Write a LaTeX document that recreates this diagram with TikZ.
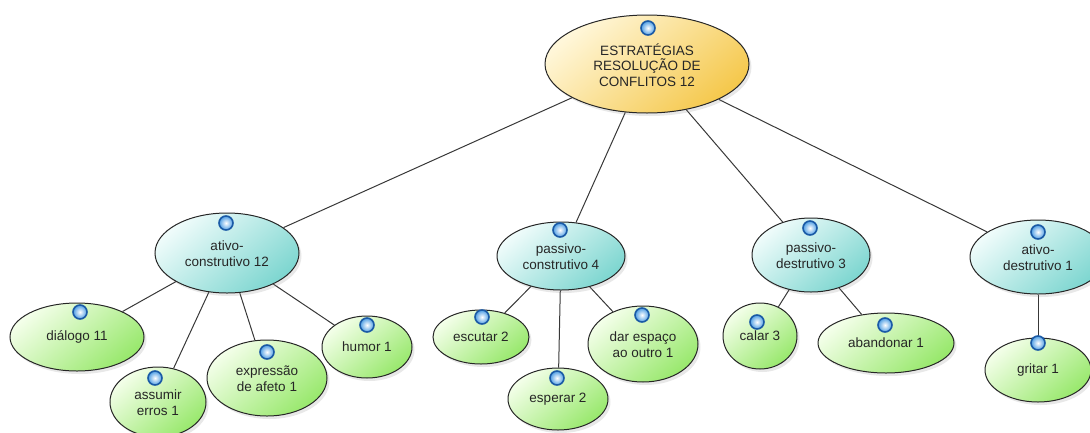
\documentclass[tikz,border=0pt]{standalone}
\usepackage{fontspec}
\setmainfont{Liberation Sans}
\usetikzlibrary{shapes.geometric,shadows,backgrounds}

\definecolor{inkline}{HTML}{262626}
\definecolor{edgeline}{HTML}{383838}
\definecolor{labeltext}{HTML}{262626}
\definecolor{rootlight}{HTML}{FFF7DA}
\definecolor{rootdark}{HTML}{F5C84C}
\definecolor{teallight}{HTML}{F0FCFB}
\definecolor{tealdark}{HTML}{7DD6D0}
\definecolor{greenlight}{HTML}{F4FFEA}
\definecolor{greendark}{HTML}{98E86C}
\definecolor{iconrim}{HTML}{1A5AA6}
\definecolor{iconbody}{HTML}{4E9EE4}

\tikzset{
  bubble/.style n args={2}{ellipse, draw=inkline, line width=1pt,
    minimum width=#1, minimum height=#2, inner sep=0pt,
    align=center, text=labeltext,
    font=\fontsize{13.5}{15.5}\selectfont,
    drop shadow={shadow xshift=2.5pt, shadow yshift=-3pt, opacity=0.18, fill=gray}},
  rootbubble/.style={top color=rootlight, bottom color=rootdark, shading angle=40},
  midbubble/.style={top color=teallight, bottom color=tealdark, shading angle=40},
  leafbubble/.style={top color=greenlight, bottom color=greendark, shading angle=40},
  icon/.style={circle, draw=iconrim, line width=1.6pt, minimum size=14pt, inner sep=0pt,
    inner color=white, outer color=iconbody},
  link/.style={draw=edgeline, line width=1pt}
}

\begin{document}
\begin{tikzpicture}[x=1pt, y=-1pt]
\useasboundingbox (0,0) rectangle (1090,432);

% root topic
\node[bubble={204pt}{98pt}, rootbubble] (root) at (647,64)
  {\\[-2pt]ESTRATÉGIAS\\RESOLUÇÃO DE\\CONFLITOS 12};

% second level
\node[bubble={144pt}{80pt}, midbubble] (ac) at (227,253) {\\[-4pt]ativo-\\construtivo 12};
\node[bubble={128pt}{68pt}, midbubble] (pc) at (561,256) {\\[-4pt]passivo-\\construtivo 4};
\node[bubble={118pt}{74pt}, midbubble] (pd) at (811,255) {\\[-4pt]passivo-\\destrutivo 3};
\node[bubble={136pt}{74pt}, midbubble] (ad) at (1038,257) {\\[-4pt]ativo-\\destrutivo 1};

% leaves
\node[bubble={134pt}{68pt}, leafbubble] (dialogo) at (77,337) {diálogo 11};
\node[bubble={96pt}{70pt}, leafbubble] (assumir) at (158,402) {\\[-4pt]assumir\\erros 1};
\node[bubble={120pt}{76pt}, leafbubble] (expressao) at (267,378) {\\[-4pt]expressão\\de afeto 1};
\node[bubble={90pt}{62pt}, leafbubble] (humor) at (367,347) {humor 1};
\node[bubble={96pt}{54pt}, leafbubble] (escutar) at (481,337) {escutar 2};
\node[bubble={100pt}{62pt}, leafbubble] (esperar) at (558,399) {esperar 2};
\node[bubble={110pt}{76pt}, leafbubble] (dar) at (643,344) {\\[-4pt]dar espaço\\ao outro 1};
\node[bubble={74pt}{66pt}, leafbubble] (calar) at (760,336) {calar 3};
\node[bubble={136pt}{60pt}, leafbubble] (abandonar) at (886,343) {abandonar 1};
\node[bubble={106pt}{64pt}, leafbubble] (gritar) at (1038,370) {gritar 1};

% topic icons
\node[icon] (i-root) at (648,28) {};
\node[icon] (i-ac) at (226,223) {};
\node[icon] (i-pc) at (560,230) {};
\node[icon] (i-pd) at (810,228) {};
\node[icon] (i-ad) at (1038,232) {};
\node[icon] (i-dialogo) at (80,312) {};
\node[icon] (i-assumir) at (155,378) {};
\node[icon] (i-expressao) at (267,352) {};
\node[icon] (i-humor) at (367,325) {};
\node[icon] (i-escutar) at (482,317) {};
\node[icon] (i-esperar) at (557,378) {};
\node[icon] (i-dar) at (642,315) {};
\node[icon] (i-calar) at (757,322) {};
\node[icon] (i-abandonar) at (885,325) {};
\node[icon] (i-gritar) at (1038,343) {};

% connectors
\begin{scope}[on background layer]
\draw[link] (root) -- (ac);
\draw[link] (root) -- (pc);
\draw[link] (root) -- (pd);
\draw[link] (root) -- (ad);
\draw[link] (ac) -- (dialogo);
\draw[link] (ac) -- (assumir);
\draw[link] (ac) -- (expressao);
\draw[link] (ac) -- (humor);
\draw[link] (pc) -- (escutar);
\draw[link] (pc) -- (esperar);
\draw[link] (pc) -- (dar);
\draw[link] (pd) -- (calar);
\draw[link] (pd) -- (abandonar);
\draw[link] (ad) -- (gritar);
\end{scope}
\end{tikzpicture}
\end{document}
